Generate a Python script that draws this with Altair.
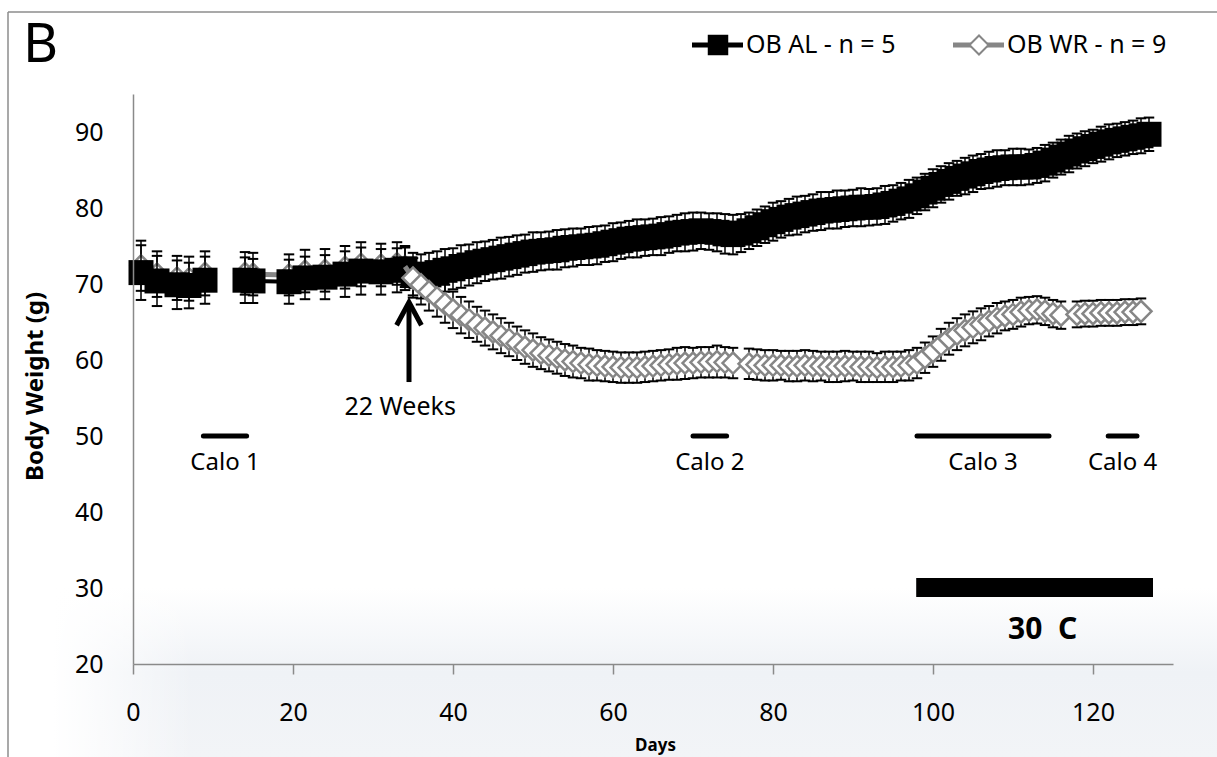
import altair as alt
import pandas as pd

FONT = "Noto Sans"
GREY = "#868686"
AXIS_GREY = "#8a8a8a"

# ---- measurement days -------------------------------------------------------
DAYS_EARLY = [1, 3, 5.5, 7, 9, 14, 15, 19.5, 21.5, 24, 26.5, 28.5, 31, 33, 34]
DAYS_DAILY = list(range(35, 128))
DAYS = DAYS_EARLY + DAYS_DAILY

# ---- OB AL (ad libitum), mean body weight (g) and SEM -----------------------
AL_MEAN = [71.5, 70.4, 69.9, 69.8, 70.5, 70.5, 70.4, 70.3, 70.8, 70.9, 71.3, 71.7, 71.6, 71.8, 72.0,
           71.3, 71.0, 71.2, 71.5, 71.8, 72.0, 72.3, 72.5, 72.8, 73.0,
           73.2, 73.4, 73.6, 73.8, 74.0, 74.2, 74.3, 74.4, 74.5, 74.7,
           74.8, 74.9, 75.0, 75.1, 75.3, 75.5, 75.7, 75.9, 76.0, 76.1,
           76.2, 76.3, 76.5, 76.7, 76.8, 76.9, 77.0, 76.9, 76.8, 76.6,
           76.5, 76.7, 77.0, 77.4, 77.8, 78.2, 78.5, 78.8, 79.0, 79.2,
           79.4, 79.6, 79.7, 79.8, 79.9, 80.0, 80.1, 80.1, 80.2, 80.4,
           80.6, 80.9, 81.2, 81.6, 82.1, 82.6, 83.1, 83.5, 83.9, 84.2,
           84.5, 84.8, 85.0, 85.2, 85.3, 85.4, 85.4, 85.4, 85.6, 85.9,
           86.3, 86.7, 87.1, 87.5, 87.8, 88.1, 88.4, 88.7, 88.9, 89.1,
           89.3, 89.5, 89.7]
AL_SEM = [3.6, 3.3, 3.2, 3.0, 3.1, 3.0, 2.9, 2.9, 2.8, 2.9, 3.0, 3.1, 3.0, 2.9, 2.8,
          2.8, 2.9, 2.9, 2.8, 2.8, 2.7, 2.8, 2.7, 2.7, 2.6,
          2.6, 2.7, 2.6, 2.6, 2.5, 2.6, 2.5, 2.5, 2.6, 2.5,
          2.5, 2.4, 2.5, 2.5, 2.4, 2.5, 2.4, 2.4, 2.5, 2.4,
          2.4, 2.5, 2.4, 2.4, 2.5, 2.5, 2.4, 2.4, 2.5, 2.6,
          2.6, 2.5, 2.4, 2.4, 2.4, 2.5, 2.4, 2.4, 2.5, 2.4,
          2.4, 2.5, 2.4, 2.5, 2.4, 2.4, 2.5, 2.4, 2.4, 2.5,
          2.4, 2.4, 2.5, 2.4, 2.4, 2.5, 2.4, 2.4, 2.3, 2.4,
          2.4, 2.3, 2.4, 2.4, 2.3, 2.4, 2.4, 2.3, 2.3, 2.4,
          2.3, 2.3, 2.4, 2.3, 2.3, 2.2, 2.3, 2.3, 2.2, 2.2,
          2.2, 2.3, 2.2]

# ---- OB WR (weight reduced), mean body weight (g) and SEM -------------------
WR_MEAN = [72.4, 71.3, 70.8, 70.7, 71.4, 71.4, 71.3, 71.2, 71.7, 71.8, 72.2, 72.6, 72.5, 72.7, 72.3,
           70.8, 69.9, 69.0, 68.2, 67.4, 66.6, 65.9, 65.3, 64.7, 64.2,
           63.7, 63.2, 62.7, 62.2, 61.7, 61.3, 60.9, 60.6, 60.3, 60.0,
           59.8, 59.6, 59.4, 59.3, 59.2, 59.1, 59.0, 59.0, 59.0, 59.1,
           59.2, 59.3, 59.4, 59.5, 59.6, 59.6, 59.7, 59.7, 59.8, 59.7,
           59.6, None, 59.5, 59.4, 59.3, 59.3, 59.3, 59.2, 59.2, 59.3,
           59.2, 59.2, 59.1, 59.1, 59.2, 59.2, 59.1, 59.1, 59.0, 59.1,
           59.1, 59.2, 59.3, 59.6, 60.3, 61.1, 62.0, 62.8, 63.4, 63.9,
           64.3, 64.7, 65.1, 65.5, 65.8, 66.0, 66.3, 66.5, 66.6, 66.4,
           66.1, 65.9, None, 66.0, 66.1, 66.1, 66.2, 66.2, 66.2, 66.3,
           66.3, 66.4, None]
WR_SEM = [3.3, 3.0, 2.9, 2.9, 2.9, 2.8, 2.8, 2.7, 2.8, 2.8, 2.8, 2.9, 2.8, 2.8, 2.7,
          2.6, 2.6, 2.5, 2.5, 2.5, 2.4, 2.4, 2.4, 2.3, 2.3,
          2.3, 2.3, 2.2, 2.2, 2.2, 2.2, 2.1, 2.1, 2.1, 2.1,
          2.1, 2.0, 2.1, 2.0, 2.0, 2.0, 2.0, 2.0, 2.0, 2.0,
          2.0, 2.0, 2.0, 2.1, 2.1, 2.0, 2.0, 2.0, 2.1, 2.0,
          2.0, None, 2.0, 2.0, 2.0, 2.0, 1.9, 2.0, 2.0, 2.0,
          2.0, 1.9, 2.0, 2.0, 2.0, 1.9, 2.0, 2.0, 1.9, 2.0,
          2.0, 1.9, 2.0, 2.0, 2.0, 2.0, 2.1, 2.1, 2.1, 2.1,
          2.1, 2.1, 2.0, 2.0, 1.9, 1.9, 1.9, 1.8, 1.8, 1.8,
          1.8, 1.8, None, 1.7, 1.7, 1.7, 1.7, 1.7, 1.7, 1.7,
          1.7, 1.7, None]

# no measurements between these days: the lines restart here
LINE_BREAKS = [14]

# ---- calorimetry periods ----------------------------------------------------
CALO_LABELS = ["Calo 1", "Calo 2", "Calo 3", "Calo 4"]
CALO_START = [8.8, 70.0, 98.0, 121.9]
CALO_END = [14.2, 74.2, 114.5, 125.5]
CALO_LEVEL = 50
CALO_TEXT_LEVEL = 46.4

# ---- thermoneutral housing (30 C) -------------------------------------------
WARM_START, WARM_END = 97.9, 127.5
WARM_LOW, WARM_HIGH = 28.8, 31.3
WARM_TEXT = "30\u00a0\u00a0C"
WARM_TEXT_DAY, WARM_TEXT_LEVEL = 113.7, 24.5

# ---- start of weight reduction ----------------------------------------------
ARROW_DAY, ARROW_FROM, ARROW_TO = 34.5, 57.1, 67.6
ARROW_TEXT = "22 Weeks"
ARROW_TEXT_DAY, ARROW_TEXT_LEVEL = 33.4, 53.8

X_TICKS = [0, 20, 40, 60, 80, 100, 120]
Y_TICKS = [20, 30, 40, 50, 60, 70, 80, 90]


def segment_ids(values, days):
    seg, out = 0, []
    for v, d in zip(values, days):
        if v is None or d in LINE_BREAKS:
            seg += 1
        out.append(seg)
    return out


df = pd.DataFrame({
    "day": DAYS,
    "al": AL_MEAN, "al_sem": AL_SEM,
    "wr": WR_MEAN, "wr_sem": WR_SEM,
})
for c in ["al", "wr", "al_sem", "wr_sem"]:
    df[c] = df[c].astype(float)
df["al_lo"] = df["al"] - df["al_sem"]
df["al_hi"] = df["al"] + df["al_sem"]
df["wr_lo"] = df["wr"] - df["wr_sem"]
df["wr_hi"] = df["wr"] + df["wr_sem"]
df["seg_al"] = segment_ids(AL_MEAN, DAYS)
df["seg_wr"] = segment_ids(WR_MEAN, DAYS)

calo_df = pd.DataFrame({"label": CALO_LABELS, "start": CALO_START, "end": CALO_END})
calo_df["mid"] = (calo_df["start"] + calo_df["end"]) / 2
calo_df["level"] = CALO_LEVEL
calo_df["text_level"] = CALO_TEXT_LEVEL

one = pd.DataFrame({"k": [0]})

XS = alt.Scale(domain=[0, 130], nice=False, zero=False)
YS = alt.Scale(domain=[20, 95], nice=False, zero=False)

X_AXIS = alt.Axis(
    values=X_TICKS, title="Days", grid=False, zindex=1,
    labelFont=FONT, labelFontSize=25, labelColor="black", labelPadding=26,
    labelFlush=False, labelOverlap=False,
    tickSize=10, tickColor=AXIS_GREY, tickWidth=1.5,
    domainColor=AXIS_GREY, domainWidth=1.5,
    titleFont=FONT, titleFontSize=17, titleFontWeight="bold", titleColor="black",
    titleX=522, titleY=81, titleAlign="center", titleBaseline="middle",
)
Y_AXIS = alt.Axis(
    values=Y_TICKS, title="Body Weight (g)", grid=False, zindex=1,
    labelFont=FONT, labelFontSize=25, labelColor="black", labelPadding=30,
    ticks=False, tickSize=0,
    domainColor=AXIS_GREY, domainWidth=1.5,
    titleFont=FONT, titleFontSize=24, titleFontWeight="bold", titleColor="black",
    titleX=-98, titleY=292, titleAngle=270, titleAlign="center", titleBaseline="middle",
)


def xq(field="day"):
    return alt.X(f"{field}:Q", scale=XS, axis=X_AXIS)


def yq(field):
    return alt.Y(f"{field}:Q", scale=YS, axis=Y_AXIS)


CAP = "M-1,0L1,0"
base = alt.Chart(df)


def series_layers(col, filt_pts, filt_line, line_color, line_width, marker):
    lines = base.transform_filter(filt_line).mark_line(
        color=line_color, strokeWidth=line_width
    ).encode(x=xq(), y=yq(col), detail=f"seg_{col}:N")
    pts = base.transform_filter(filt_pts)
    err = pts.mark_rule(color="black", strokeWidth=1.5).encode(
        x=xq(), y=yq(f"{col}_lo"), y2=alt.Y2(f"{col}_hi:Q"))
    cap_lo = pts.mark_point(shape=CAP, size=110, filled=False, color="black",
                            strokeWidth=2, opacity=1).encode(x=xq(), y=yq(f"{col}_lo"))
    cap_hi = pts.mark_point(shape=CAP, size=110, filled=False, color="black",
                            strokeWidth=2, opacity=1).encode(x=xq(), y=yq(f"{col}_hi"))
    marks = pts.mark_point(**marker).encode(x=xq(), y=yq(col))
    return [err, cap_lo, cap_hi, lines, marks]


AL_MARK = dict(shape="square", size=625, filled=True, color="black", opacity=1)
WR_MARK = dict(shape="diamond", size=441, filled=True, fill="white", stroke=GREY,
               strokeWidth=2.5, opacity=1)

wr_early = series_layers("wr", "datum.day <= 34 && isValid(datum.wr)",
                         "datum.day <= 34 && isValid(datum.wr)", GREY, 5, WR_MARK)
al_all = series_layers("al", "isValid(datum.al)", "isValid(datum.al)", "black", 4, AL_MARK)
wr_late = series_layers("wr", "datum.day >= 35 && isValid(datum.wr)",
                        "datum.day >= 34 && isValid(datum.wr)", GREY, 5, WR_MARK)

# calorimetry bars and labels
calo = alt.Chart(calo_df)
calo_bars = calo.mark_rule(color="black", strokeWidth=5, strokeCap="round").encode(
    x=xq("start"), x2=alt.X2("end:Q"), y=yq("level"))
calo_text = calo.mark_text(font=FONT, fontSize=24, color="black", baseline="middle").encode(
    x=xq("mid"), y=yq("text_level"), text="label:N")

# 30 C housing bar
warm_df = pd.DataFrame({"x0": [WARM_START], "x1": [WARM_END], "y0": [WARM_LOW], "y1": [WARM_HIGH],
                        "tx": [WARM_TEXT_DAY], "ty": [WARM_TEXT_LEVEL], "t": [WARM_TEXT]})
warm = alt.Chart(warm_df)
warm_bar = warm.mark_rect(color="black").encode(
    x=xq("x0"), x2=alt.X2("x1:Q"), y=yq("y0"), y2=alt.Y2("y1:Q"))
warm_text = warm.mark_text(font=FONT, fontSize=30, fontWeight="bold", color="black",
                           baseline="middle").encode(x=xq("tx"), y=yq("ty"), text="t:N")

# arrow marking the start of weight reduction
arrow_df = pd.DataFrame({"x": [ARROW_DAY], "y0": [ARROW_FROM], "y1": [ARROW_TO - 0.3],
                         "tip": [ARROW_TO], "tx": [ARROW_TEXT_DAY], "ty": [ARROW_TEXT_LEVEL],
                         "t": [ARROW_TEXT]})
arrow = alt.Chart(arrow_df)
arrow_shaft = arrow.mark_rule(color="black", strokeWidth=5).encode(
    x=xq("x"), y=yq("y0"), y2=alt.Y2("y1:Q"))
arrow_head = arrow.mark_point(shape="M-0.54,1L0,0L0.54,1", size=2116, filled=False,
                              color="black", strokeWidth=5, opacity=1,
                              strokeJoin="miter").encode(x=xq("x"), y=yq("tip"))
arrow_text = arrow.mark_text(font=FONT, fontSize=25, color="black", baseline="middle").encode(
    x=xq("tx"), y=yq("ty"), text="t:N")

# soft shadow under the plot area
dec = alt.Chart(one)
haze = dec.mark_rect(
    color=alt.LinearGradient(
        gradient="linear", x1=0, y1=0, x2=0, y2=1,
        stops=[alt.GradientStop(color="#ffffff", offset=0),
               alt.GradientStop(color="#eff2f6", offset=0.5),
               alt.GradientStop(color="#f2f4f7", offset=1)],
    )
).encode(x=alt.value(-80), x2=alt.value(1084), y=alt.value(494), y2=alt.value(663))
haze_left = dec.mark_rect(
    color=alt.LinearGradient(
        gradient="linear", x1=0, y1=0, x2=1, y2=0,
        stops=[alt.GradientStop(color="rgba(255,255,255,1)", offset=0),
               alt.GradientStop(color="rgba(255,255,255,0)", offset=1)],
    )
).encode(x=alt.value(-80), x2=alt.value(60), y=alt.value(494), y2=alt.value(663))

# legend, panel letter and frame
LEG_Y = -49
legend = [
    dec.mark_rule(color="black", strokeWidth=5).encode(
        x=alt.value(559), x2=alt.value(610), y=alt.value(LEG_Y)),
    dec.mark_point(shape="square", size=420, filled=True, color="black", opacity=1).encode(
        x=alt.value(585), y=alt.value(LEG_Y)),
    dec.mark_text(text="OB AL - n = 5", font=FONT, fontSize=25, color="black",
                  align="left", baseline="middle").encode(x=alt.value(613), y=alt.value(LEG_Y)),
    dec.mark_rule(color=GREY, strokeWidth=5).encode(
        x=alt.value(820), x2=alt.value(871), y=alt.value(LEG_Y)),
    dec.mark_point(shape="diamond", size=361, filled=True, fill="white", stroke=GREY,
                   strokeWidth=2, opacity=1).encode(x=alt.value(846), y=alt.value(LEG_Y)),
    dec.mark_text(text="OB WR - n = 9", font=FONT, fontSize=25, color="black",
                  align="left", baseline="middle").encode(x=alt.value(874), y=alt.value(LEG_Y)),
]
letter = dec.mark_text(text="B", font=FONT, fontSize=54, color="black",
                       align="left", baseline="middle").encode(x=alt.value(-110), y=alt.value(-48))
frame = [
    dec.mark_rule(color="#8c8c8c", strokeWidth=1.5).encode(
        x=alt.value(-125), y=alt.value(-82), y2=alt.value(663)),
    dec.mark_rule(color="#8c8c8c", strokeWidth=1.5).encode(
        x=alt.value(-125), x2=alt.value(1084), y=alt.value(-82)),
]

chart = alt.layer(
    haze, haze_left, *frame,
    calo_bars, calo_text, warm_bar, warm_text,
    *wr_early, *al_all, *wr_late,
    arrow_shaft, arrow_head, arrow_text,
    *legend, letter,
).properties(
    width=1040, height=570,
    autosize=alt.AutoSizeParams(type="none"),
    padding={"left": 133, "top": 94, "right": 44, "bottom": 93},
    background="white",
).configure_view(stroke=None)

chart.save("out.html", embed_options={"renderer": "svg", "actions": False})
